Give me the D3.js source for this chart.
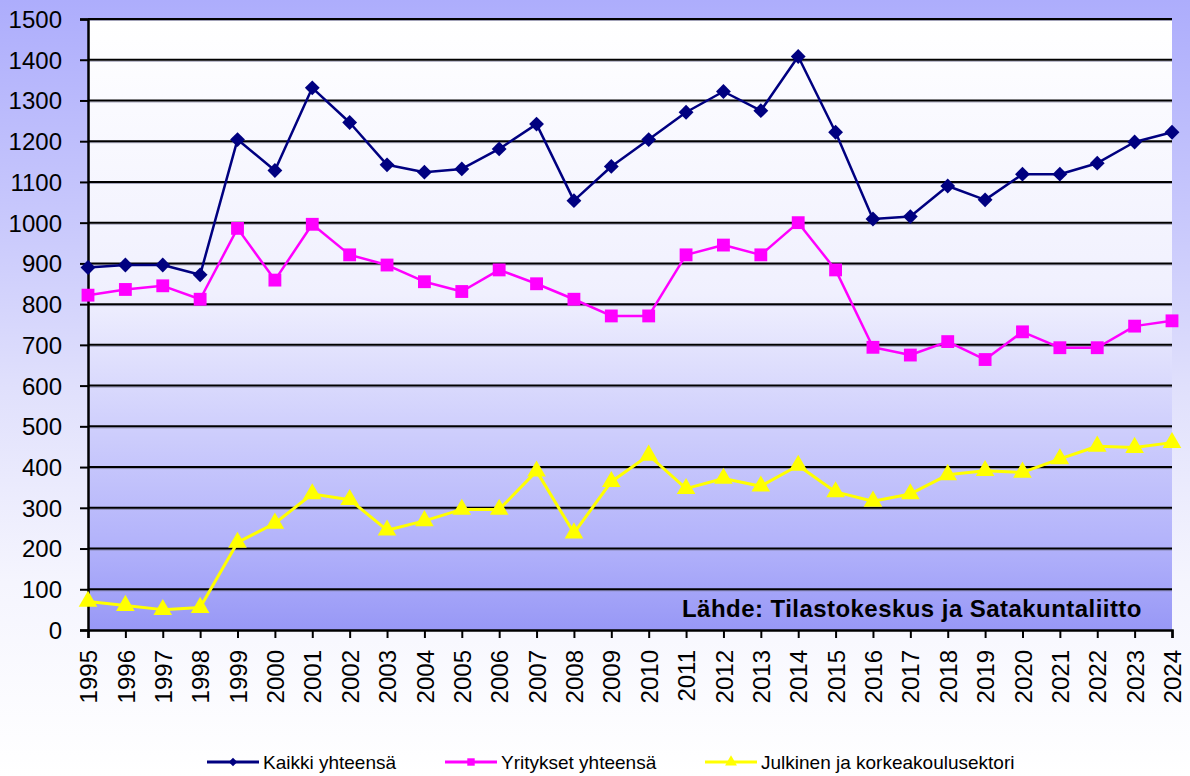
<!DOCTYPE html>
<html lang="fi">
<head>
<meta charset="utf-8">
<title>Kaikki, yritykset, julkinen</title>
<script src="https://d3js.org/d3.v7.min.js"></script>
<style>
  body { margin: 0; font-family: Arial, "Liberation Sans", sans-serif; }
  svg { display: block; }
</style>
</head>
<body>
<div id="chart"></div>
<script>
// data
var years = ["1995","1996","1997","1998","1999","2000","2001","2002","2003","2004",
             "2005","2006","2007","2008","2009","2010","2011","2012","2013","2014",
             "2015","2016","2017","2018","2019","2020","2021","2022","2023","2024"];
var kaikki = [890, 896, 896, 872, 1204, 1128, 1331, 1246, 1142, 1124,
              1132, 1181, 1242, 1054, 1138, 1204, 1271, 1322, 1275, 1408,
              1222, 1009, 1015, 1090, 1056, 1119, 1119, 1146, 1198, 1222];
var yritykset = [822, 836, 845, 812, 986, 859, 996, 921, 896, 855,
                 831, 884, 850, 812, 771, 771, 921, 945, 921, 1000,
                 884, 694, 675, 708, 664, 732, 693, 693, 746, 759];
var julkinen = [70, 60, 50, 55, 215, 262, 334, 320, 245, 268,
                296, 296, 390, 238, 364, 429, 347, 372, 353, 404,
                339, 316, 334, 381, 391, 387, 420, 451, 448, 460];
var yTicks = [0, 100, 200, 300, 400, 500, 600, 700, 800, 900, 1000, 1100, 1200, 1300, 1400, 1500];
var seriesNames = ["Kaikki yhteensä", "Yritykset yhteensä", "Julkinen ja korkeakoulusektori"];
var source = "Lähde: Tilastokeskus ja Satakuntaliitto";

var W = 1190, H = 776;
var margin = {top: 19, left: 88, right: 18, bottom: 146},
    width = W - margin.left - margin.right,
    height = H - margin.top - margin.bottom;

var svg = d3.select("#chart").append("svg")
    .attr("width", W)
    .attr("height", H);

var defs = svg.append("defs");
var outer = defs.append("linearGradient").attr("id", "outerGrad")
    .attr("x1", 0).attr("y1", 0).attr("x2", 0).attr("y2", 1);
[[0, "#adadfc"], [0.3, "#cacafc"], [0.5, "#e0e0fc"], [0.75, "#f5f5fe"], [1, "#ffffff"]]
  .forEach(function(s) { outer.append("stop").attr("offset", s[0]).attr("stop-color", s[1]); });

var inner = defs.append("linearGradient").attr("id", "plotGrad")
    .attr("x1", 0).attr("y1", 0).attr("x2", 0).attr("y2", 1);
[[0, "#ffffff"], [0.45, "#f0f0fe"], [0.68, "#cdcdfc"], [0.85, "#b4b4fb"], [1, "#9898f6"]]
  .forEach(function(s) { inner.append("stop").attr("offset", s[0]).attr("stop-color", s[1]); });

svg.append("rect").attr("width", W).attr("height", H).attr("fill", "url(#outerGrad)");

var g = svg.append("g")
    .attr("transform", "translate(" + margin.left + "," + margin.top + ")");

g.append("rect").attr("width", width).attr("height", height).attr("fill", "url(#plotGrad)");

var x = d3.scalePoint().domain(years).range([0, width]).padding(0);
var y = d3.scaleLinear().domain([0, 1500]).range([height, 0]);

// gridlines (black with a soft grey shadow)
g.append("g").selectAll("line.shadow")
  .data(yTicks.slice(1))
  .enter().append("line")
    .attr("x1", 0).attr("x2", width)
    .attr("y1", function(d) { return y(d) + 1.5; })
    .attr("y2", function(d) { return y(d) + 1.5; })
    .attr("stroke", "#7a7a9a").attr("stroke-width", 1).attr("opacity", 0.7);
g.append("g").selectAll("line.grid")
  .data(yTicks.slice(1))
  .enter().append("line")
    .attr("x1", 0).attr("x2", width)
    .attr("y1", function(d) { return y(d); })
    .attr("y2", function(d) { return y(d); })
    .attr("stroke", "#000").attr("stroke-width", 2);

// axes
var yAxis = g.append("g")
    .call(d3.axisLeft(y).tickValues(yTicks).tickFormat(d3.format("d")).tickSize(8).tickPadding(18));
var xAxis = g.append("g")
    .attr("transform", "translate(0," + height + ")")
    .call(d3.axisBottom(x).tickSize(8).tickPadding(0));

[yAxis, xAxis].forEach(function(a) {
  a.select(".domain").attr("stroke", "#000").attr("stroke-width", 2.5);
  a.selectAll(".tick line").attr("stroke", "#000").attr("stroke-width", 2);
  a.selectAll("text").attr("fill", "#000")
    .style("font-family", "Arial, 'Liberation Sans', sans-serif")
    .style("font-size", "24px");
});
yAxis.selectAll("text").attr("dy", "0.35em");
xAxis.selectAll("text")
    .attr("text-anchor", "end")
    .attr("transform", "translate(0,20) rotate(-90)")
    .attr("x", 0).attr("y", 0).attr("dy", "0.36em");

// source note
g.append("text")
    .attr("x", 594).attr("y", 598)
    .style("font-family", "Arial, 'Liberation Sans', sans-serif")
    .style("font-size", "24px").style("font-weight", "bold")
    .style("letter-spacing", "0.45px")
    .attr("fill", "#000")
    .text(source);

// series
var series = [
  {name: seriesNames[0], values: kaikki, color: "#000080", symbol: d3.symbolSquare, rot: 45, size: 110, lsize: 36, width: 2.5},
  {name: seriesNames[1], values: yritykset, color: "#ff00ff", symbol: d3.symbolSquare, rot: 0, size: 165, lsize: 55, width: 2.5},
  {name: seriesNames[2], values: julkinen, color: "#ffff00", symbol: d3.symbolTriangle, rot: 0, size: 150, lsize: 60, width: 3}
];

var line = d3.line()
    .x(function(d, i) { return x(years[i]); })
    .y(function(d) { return y(d); });

series.slice().reverse().forEach(function(s) {
  var sg = g.append("g");
  sg.append("path")
    .datum(s.values)
    .attr("d", line)
    .attr("fill", "none")
    .attr("stroke", s.color)
    .attr("stroke-width", s.width)
    .attr("stroke-linejoin", "round");
  sg.selectAll("path.m")
    .data(s.values)
    .enter().append("path")
      .attr("class", "m")
      .attr("d", d3.symbol().type(s.symbol).size(s.size))
      .attr("transform", function(d, i) {
        return "translate(" + x(years[i]) + "," + y(d) + ") rotate(" + s.rot + ")";
      })
      .attr("fill", s.color);
});

// legend
var legendX = [207, 445, 705];
var legend = svg.append("g").attr("transform", "translate(0,762)");
series.forEach(function(s, i) {
  var lg = legend.append("g").attr("transform", "translate(" + legendX[i] + ",0)");
  lg.append("line").attr("x1", 0).attr("x2", 52).attr("y1", 0).attr("y2", 0)
    .attr("stroke", s.color).attr("stroke-width", 3);
  lg.append("path").attr("d", d3.symbol().type(s.symbol).size(s.lsize)())
    .attr("transform", "translate(26,0) rotate(" + s.rot + ")").attr("fill", s.color);
  lg.append("text").attr("x", 56).attr("y", 0).attr("dy", "0.36em")
    .style("font-family", "Arial, 'Liberation Sans', sans-serif")
    .style("font-size", "19px").attr("fill", "#000")
    .text(s.name);
});
</script>
</body>
</html>
